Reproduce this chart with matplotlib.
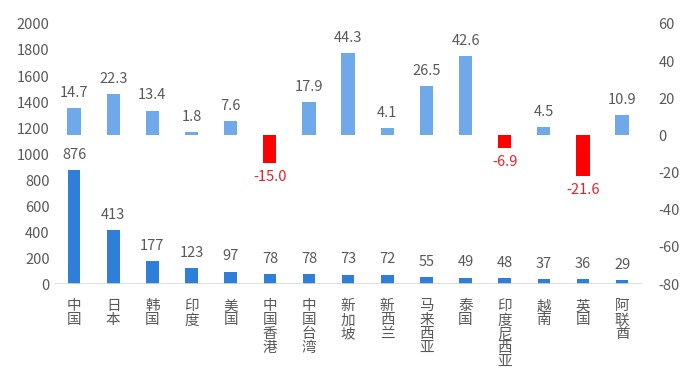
import matplotlib
matplotlib.use("Agg")
import matplotlib.pyplot as plt
import numpy as np

plt.rcParams['font.family'] = ['Noto Sans CJK SC', 'DejaVu Sans']
plt.rcParams['axes.unicode_minus'] = False

categories = ["中国", "日本", "韩国", "印度", "美国", "中国香港", "中国台湾", "新加坡",
              "新西兰", "马来西亚", "泰国", "印度尼西亚", "越南", "英国", "阿联酋"]
counts = [876, 413, 177, 123, 97, 78, 78, 73, 72, 55, 49, 48, 37, 36, 29]
growth = [14.7, 22.3, 13.4, 1.8, 7.6, -15.0, 17.9, 44.3, 4.1, 26.5, 42.6, -6.9, 4.5, -21.6, 10.9]
left_ticks = [0, 200, 400, 600, 800, 1000, 1200, 1400, 1600, 1800, 2000]
right_ticks = [-80, -60, -40, -20, 0, 20, 40, 60]

dark_blue = "#2f7ed8"
light_blue = "#6fa9ea"
red = "#ff0000"
txt = "#595959"

fig = plt.figure(figsize=(6.99, 3.69), dpi=100)
ax = fig.add_axes([0.078, 0.230, 0.840, 0.705])
ax2 = ax.twinx()

x = np.arange(len(categories))
w = 0.32
ax.bar(x, counts, width=w, color=dark_blue, zorder=3)
gcolors = [light_blue if g >= 0 else red for g in growth]
ax2.bar(x, growth, width=w + 0.02, color=gcolors, zorder=3)

ax.set_xlim(-0.5, len(categories) - 0.5)
ax.set_ylim(0, 2000)
ax2.set_ylim(-80, 60)
ax.set_yticks(left_ticks)
ax2.set_yticks(right_ticks)
ax.set_xticks(x)
ax.set_xticklabels(["\n".join(c) for c in categories], fontsize=10, color=txt,
                   linespacing=1.0, va='top')

for a in (ax, ax2):
    for s in a.spines.values():
        s.set_visible(False)
    a.tick_params(length=0, labelsize=10.5, labelcolor=txt)
ax.tick_params(axis='x', pad=11)
ax2.tick_params(axis='y', pad=12)
ax.axhline(0, color="#d9d9d9", lw=1.2, zorder=4)

for xi, v in zip(x, counts):
    ax.annotate(f"{v}", (xi, v), xytext=(0, 6), textcoords='offset points',
                ha='center', va='bottom', fontsize=10.5, color=txt)
for xi, g in zip(x, growth):
    if g >= 0:
        ax2.annotate(f"{g:.1f}", (xi, g), xytext=(0, 6), textcoords='offset points',
                     ha='center', va='bottom', fontsize=10.5, color=txt)
    else:
        ax2.annotate(f"{g:.1f}", (xi, g), xytext=(0, -5), textcoords='offset points',
                     ha='center', va='top', fontsize=10.5, color="#e8202a")

fig.savefig("out.png", dpi=100)
